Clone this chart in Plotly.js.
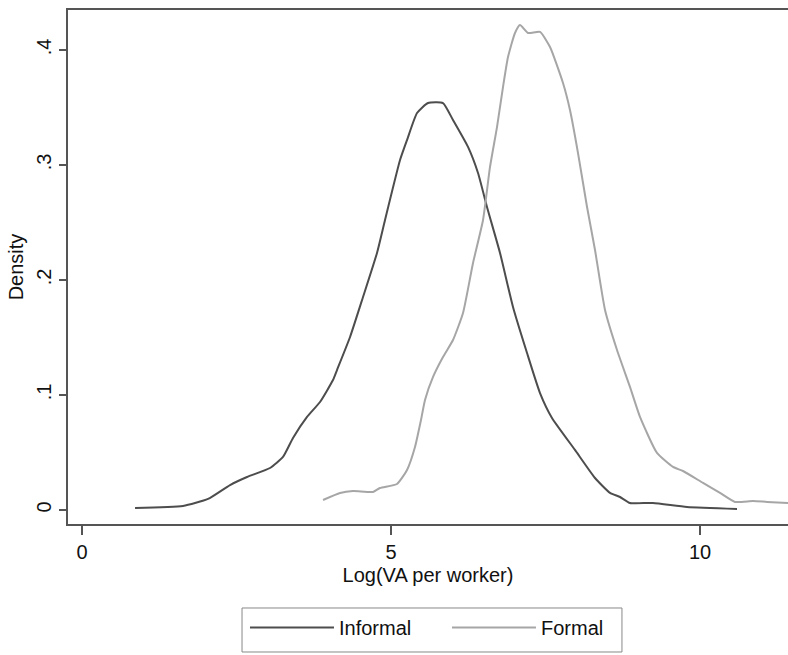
<!DOCTYPE html>
<html>
<head>
<meta charset="utf-8">
<script src="https://cdn.plot.ly/plotly-3.0.1.min.js"></script>
<style>html,body{margin:0;padding:0;background:#fff;}#chart{width:788px;height:655px;}</style>
</head>
<body>
<div id="chart"></div>
<script>
const informalX = [0.858,1.634,2.039,2.395,2.670,3.042,3.252,3.414,3.641,3.851,4.061,4.126,4.337,4.547,4.773,4.903,5.146,5.259,5.421,5.599,5.841,6.003,6.246,6.408,6.553,6.764,6.974,7.201,7.411,7.605,7.977,8.301,8.544,8.706,8.867,9.239,9.790,10.599];
const informalY = [0.0017,0.0035,0.0096,0.0217,0.0287,0.0365,0.0461,0.0626,0.0809,0.0939,0.113,0.1217,0.1504,0.1852,0.2235,0.2522,0.3043,0.3217,0.3452,0.3539,0.3539,0.3391,0.3157,0.293,0.2635,0.2235,0.1765,0.1365,0.1017,0.08,0.0522,0.0278,0.0148,0.0113,0.0061,0.0061,0.0026,0.0009];
const formalX = [3.900,4.175,4.385,4.709,4.822,5.097,5.259,5.388,5.485,5.550,5.680,5.841,6.003,6.165,6.327,6.489,6.602,6.715,6.812,6.893,7.006,7.087,7.217,7.411,7.573,7.783,7.896,8.026,8.172,8.301,8.463,8.657,8.867,9.029,9.304,9.563,9.725,10.049,10.324,10.566,10.858,11.084,11.424];
const formalY = [0.0087,0.0148,0.0165,0.0157,0.0191,0.0226,0.0348,0.0548,0.0783,0.0957,0.1157,0.133,0.1478,0.1713,0.2148,0.2522,0.2983,0.333,0.3678,0.3939,0.4148,0.4217,0.4148,0.4157,0.4026,0.3713,0.3478,0.3104,0.2635,0.2261,0.1739,0.1391,0.107,0.0809,0.0496,0.0374,0.0339,0.0235,0.0148,0.007,0.0078,0.007,0.0061];
const xTicks = [0,5,10];
const xTickText = ['0','5','10'];
const yTicks = [0,0.1,0.2,0.3,0.4];
const yTickText = ['0','.1','.2','.3','.4'];

const FONT = 'Liberation Sans, Arial, Helvetica, sans-serif';
const data = [
  {x: informalX, y: informalY, type: 'scatter', mode: 'lines', name: 'Informal',
   line: {color: '#4d4d4d', width: 2, shape: 'spline', smoothing: 0.5}},
  {x: formalX, y: formalY, type: 'scatter', mode: 'lines', name: 'Formal',
   line: {color: '#a6a6a6', width: 2, shape: 'spline', smoothing: 0.5}}
];
const layout = {
  width: 788, height: 655,
  margin: {l: 68, r: 0, t: 10, b: 131},
  paper_bgcolor: '#ffffff', plot_bgcolor: '#ffffff',
  font: {family: FONT, size: 20, color: '#111111'},
  showlegend: true,
  legend: {orientation: 'h', x: 0.2458, xanchor: 'left', y: -0.1634, yanchor: 'top',
    borderwidth: 0, bgcolor: 'rgba(0,0,0,0)',
    itemwidth: 84, entrywidth: 103, font: {family: FONT, size: 20, color: '#111111'}},
  shapes: [{type: 'rect', xref: 'paper', yref: 'paper', x0: 0.2417, x1: 0.7694, y0: -0.249, y1: -0.1634,
    line: {color: '#888888', width: 1}, fillcolor: 'rgba(0,0,0,0)', layer: 'below'}],
  xaxis: {range: [-0.227, 11.424], tickvals: xTicks, ticktext: xTickText,
    showgrid: false, zeroline: false, showline: true, linecolor: '#555555', linewidth: 2,
    mirror: true, ticks: 'outside', ticklen: 9, tickwidth: 1.5, tickcolor: '#555555',
    tickfont: {size: 20, family: FONT, color: '#111111'},
    title: {text: 'Log(VA per worker)', font: {size: 20, family: FONT, color: '#111111'}, standoff: 6}},
  yaxis: {range: [-0.0122, 0.4348], tickvals: yTicks, ticktext: yTickText, tickangle: -90,
    showgrid: false, zeroline: false, showline: true, linecolor: '#555555', linewidth: 2,
    ticks: 'outside', ticklen: 7, tickwidth: 1.5, tickcolor: '#555555',
    tickfont: {size: 20, family: FONT, color: '#111111'},
    title: {text: 'Density', font: {size: 20, family: FONT, color: '#111111'}, standoff: 4}}
};
Plotly.newPlot('chart', data, layout, {displayModeBar: false, staticPlot: true});
</script>
</body>
</html>
